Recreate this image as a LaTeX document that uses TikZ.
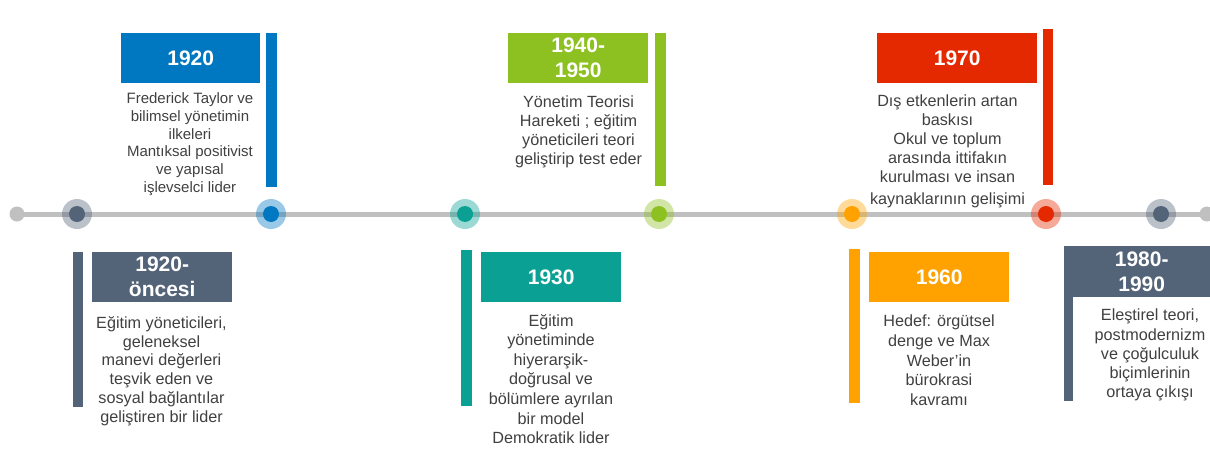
\documentclass[tikz,border=0pt]{standalone}
\usepackage{fontspec}
\setmainfont{Liberation Sans}
\definecolor{cblue}{HTML}{0078C1}
\definecolor{cslate}{HTML}{536378}
\definecolor{cteal}{HTML}{0AA194}
\definecolor{cgreen}{HTML}{8DC021}
\definecolor{corange}{HTML}{FFA200}
\definecolor{cred}{HTML}{E42800}
\definecolor{cline}{HTML}{C0C0C0}
\definecolor{ctext}{HTML}{404040}
\begin{document}
\begin{tikzpicture}[x=1pt,y=-1pt,
  yearbox/.style={fill=#1, text=white, font=\fontsize{21}{25}\selectfont\bfseries, align=center, inner sep=0, minimum height=50, anchor=north west},
  vbar/.style={fill=#1, inner sep=0, minimum width=11, anchor=north west},
  desc/.style={text=ctext, font=\fontsize{16.2}{19.3}\selectfont, align=center, inner sep=0, anchor=north},
  tlhalo/.style={circle, fill=#1, fill opacity=0.4, inner sep=0, minimum size=30},
  tldot/.style={circle, fill=#1, inner sep=0, minimum size=16},
  tl/.style={draw=cline, line width=5},
]
\useasboundingbox (0,0) rectangle (1210,463);

% timeline
\coordinate (endL) at (17,214);
\coordinate (endR) at (1207,214);
\draw[tl] (endL) -- (endR);
\node[tldot=cline, minimum size=15] (eL) at (endL) {};
\node[tldot=cline, minimum size=15] (eR) at (endR) {};

\foreach \n/\x/\c in {p1900/77/cslate, p1920/271/cblue, p1930/465/cteal, p1940/659/cgreen, p1960/852/corange, p1970/1046/cred, p1980/1161/cslate}{
  \node[tlhalo=\c] (h\n) at (\x,214) {};
  \node[tldot=\c] (d\n) at (\x,214) {};
}

% year boxes
\node[yearbox=cblue, minimum width=139] (b1920) at (121,33) {1920};
\node[yearbox=cslate, minimum width=140] (b1900) at (92,252) {1920-\\öncesi};
\node[yearbox=cteal, minimum width=140] (b1930) at (481,252) {1930};
\node[yearbox=cgreen, minimum width=140] (b1940) at (508,33) {1940-\\1950};
\node[yearbox=corange, minimum width=140] (b1960) at (869,252) {1960};
\node[yearbox=cred, minimum width=160] (b1970) at (877,33) {1970};
\node[yearbox=cslate, minimum width=137, minimum height=51] (b1980) at (1073,246) {1980-\\1990};

% bars
\node[vbar=cblue, minimum height=154] (v1920) at (266,33) {};
\node[vbar=cslate, minimum height=155, minimum width=10] (v1900) at (73,252) {};
\node[vbar=cteal, minimum height=156] (v1930) at (461,250) {};
\node[vbar=cgreen, minimum height=153] (v1940) at (655,33) {};
\node[vbar=corange, minimum height=154] (v1960) at (849,249) {};
\node[vbar=cred, minimum height=156, minimum width=10] (v1970) at (1043,29) {};
\node[vbar=cslate, minimum height=155, minimum width=9] (v1980) at (1064,246) {};

% descriptions
\node[desc, font=\fontsize{15}{17.7}\selectfont] (t1920) at (190,92.7) {Frederick Taylor ve\\bilimsel yönetimin\\ilkeleri\\Mantıksal positivist\\ve yapısal\\işlevselci lider};
\node[desc, font=\fontsize{16.2}{18.9}\selectfont] (t1900) at (161.5,316) {Eğitim yöneticileri,\\geleneksel\\manevi değerleri\\teşvik eden ve\\sosyal bağlantılar\\geliştiren bir lider};
\node[desc, font=\fontsize{16.2}{19.6}\selectfont] (t1930) at (551,314) {Eğitim\\yönetiminde\\hiyerarşik-\\doğrusal ve\\bölümlere ayrılan\\bir model\\Demokratik lider};
\node[desc, font=\fontsize{16.2}{18.8}\selectfont] (t1940) at (578.5,96) {Yönetim Teorisi\\Hareketi ; eğitim\\yöneticileri teori\\geliştirip test eder};
\node[desc, font=\fontsize{16.2}{19.6}\selectfont] (t1960) at (939,315) {Hedef: örgütsel\\denge ve Max\\Weber’in\\bürokrasi\\kavramı};
\node[desc, font=\fontsize{16.2}{19}\selectfont] (t1970) at (947.5,95) {Dış etkenlerin artan\\baskısı\\Okul ve toplum\\arasında ittifakın\\kurulması ve insan\\[3pt]kaynaklarının gelişimi};
\node[desc, font=\fontsize{16.2}{19.2}\selectfont] (t1980) at (1150,309) {Eleştirel teori,\\postmodernizm\\ve çoğulculuk\\biçimlerinin\\ortaya çıkışı};
\end{tikzpicture}
\end{document}
